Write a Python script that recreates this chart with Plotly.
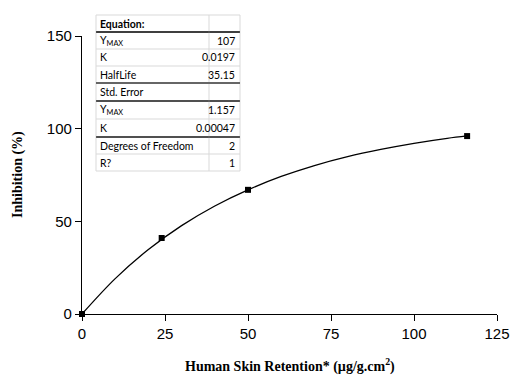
import plotly.graph_objects as go

# ---- data ----
x_points = [0, 24, 50, 116]
y_points = [0, 41, 67, 96]

curve_x = [0, 10, 20, 30, 40, 50, 60, 70, 80, 90, 100, 110, 116]
curve_y = [0, 19.1, 34.8, 47.7, 58.3, 67.0, 74.2, 80.1, 84.9, 88.8, 92.1, 94.8, 96.1]

table_labels = ["<b>Equation:</b>", "Y<sub>MAX</sub>", "K", "HalfLife", "Std. Error",
                "Y<sub>MAX</sub>", "K", "Degrees of Freedom", "R?"]
table_values = ["", "107", "0.0197", "35.15", "", "1.157", "0.00047", "2", "1"]

x_ticks = [0, 25, 50, 75, 100, 125]
y_ticks = [0, 50, 100, 150]

W, H = 513, 379
PX0, PX1, PY0, PY1 = 82, 497, 36, 314   # plot area in page pixels
L, T = PX0, PY0
R, B = W - PX1, H - PY1
PW, PH = PX1 - PX0, PY1 - PY0

def px(xp):
    return (xp - PX0) / PW

def py(yp):
    return (PY1 - yp) / PH

fig = go.Figure()
fig.add_trace(go.Scatter(x=curve_x, y=curve_y, mode="lines",
                         line=dict(color="black", width=1.3, shape="spline"),
                         hoverinfo="skip", showlegend=False, cliponaxis=False))
fig.add_trace(go.Scatter(x=x_points, y=y_points, mode="markers",
                         marker=dict(symbol="square", size=6, color="black"),
                         showlegend=False, cliponaxis=False))

shapes = []
annotations = []
# table geometry (page pixels)
tx0, tdiv, tx1 = 96, 209, 240
row_edges = [15, 32, 49, 66, 83, 101, 119, 137, 154, 171]
dark = {1: ("#333333", 1.3), 4: ("#666666", 2), 5: ("#444444", 1.3), 7: ("#444444", 1.3)}
shapes.append(dict(type="rect", xref="paper", yref="paper", x0=px(tx0), x1=px(tx1),
                   y0=py(row_edges[-1]), y1=py(row_edges[0]), fillcolor="white",
                   line=dict(width=0), layer="above"))
for i, ye in enumerate(row_edges):
    col, w = dark.get(i, ("#d9d9d9", 1))
    shapes.append(dict(type="line", xref="paper", yref="paper", x0=px(tx0), x1=px(tx1),
                       y0=py(ye), y1=py(ye), line=dict(color=col, width=w), layer="above"))
for xv in (tx0, tdiv, tx1):
    shapes.append(dict(type="line", xref="paper", yref="paper", x0=px(xv), x1=px(xv),
                       y0=py(row_edges[-1]), y1=py(row_edges[0]),
                       line=dict(color="#d9d9d9", width=1), layer="above"))
for i, ye in enumerate(row_edges):
    if i in dark:
        col, w = dark[i]
        shapes.append(dict(type="line", xref="paper", yref="paper", x0=px(tx0), x1=px(tx1),
                           y0=py(ye), y1=py(ye), line=dict(color=col, width=w), layer="above"))

tfont = dict(family="Lato, Open Sans, sans-serif", size=10.5, color="black")
for i, (lab, val) in enumerate(zip(table_labels, table_values)):
    yc = (row_edges[i] + row_edges[i + 1]) / 2
    annotations.append(dict(x=px(tx0 + 2), y=py(yc), xref="paper", yref="paper", text=lab,
                            showarrow=False, xanchor="left", yanchor="middle", font=tfont))
    if val:
        annotations.append(dict(x=px(tx1 - 3), y=py(yc), xref="paper", yref="paper", text=val,
                                showarrow=False, xanchor="right", yanchor="middle", font=tfont))

tfont_title = dict(family="Liberation Serif, serif", size=14, color="black")
annotations.append(dict(x=px(290), y=py(365), xref="paper", yref="paper",
                        text="<b>Human Skin Retention* (µg/g.cm<sup>2</sup>)</b>",
                        showarrow=False, xanchor="center", yanchor="middle", font=tfont_title))
annotations.append(dict(x=px(18), y=py(175), xref="paper", yref="paper",
                        text="<b>Inhibition (%)</b>", textangle=-90,
                        showarrow=False, xanchor="center", yanchor="middle", font=tfont_title))

axis_common = dict(showgrid=False, zeroline=False, showline=True, linecolor="black",
                   linewidth=1.3, ticks="outside", ticklen=6, tickwidth=1.3, tickcolor="black",
                   tickfont=dict(family="Liberation Sans, Arial, sans-serif", size=15, color="black"))
fig.update_layout(
    width=W, height=H, margin=dict(l=L, r=R, t=T, b=B, autoexpand=False),
    paper_bgcolor="white", plot_bgcolor="white",
    xaxis=dict(range=[0, 125], tickvals=x_ticks, automargin=False, **axis_common),
    yaxis=dict(range=[0, 150], tickvals=y_ticks, automargin=False, **axis_common),
    shapes=shapes, annotations=annotations, showlegend=False,
)
fig.write_html("out.html", config={"displayModeBar": False},
               post_script="document.body.style.margin='0';document.body.style.overflow='hidden';")
